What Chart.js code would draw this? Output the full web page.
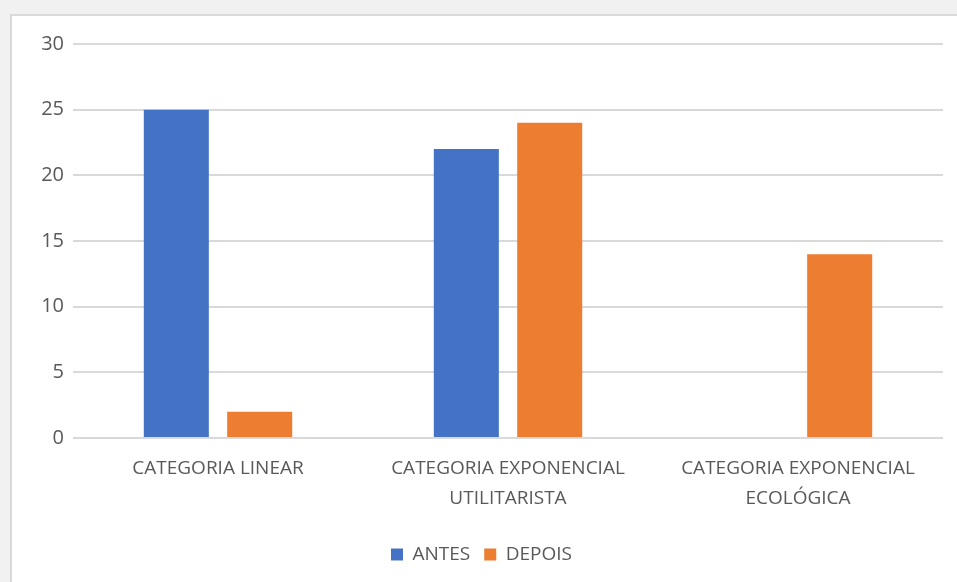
<!DOCTYPE html>
<html>
<head>
<meta charset="utf-8">
<script src="https://cdn.jsdelivr.net/npm/chart.js@4"></script>
<style>
  html, body { margin: 0; padding: 0; background: #f1f1f1; }
  #wrap { position: relative; width: 957px; height: 582px; overflow: hidden; }
  #frame { position: absolute; left: 10px; top: 14px; width: 960px; height: 580px;
           background: #fff; border: 2px solid #d9d9d9; }
  #myChart { position: absolute; left: 0; top: 0; }
</style>
</head>
<body>
<div id="wrap">
  <div id="frame"></div>
  <canvas id="myChart" width="957" height="582"></canvas>
</div>
<script>
let categorias = [
    'CATEGORIA LINEAR',
    ['CATEGORIA EXPONENCIAL', 'UTILITARISTA'],
    ['CATEGORIA EXPONENCIAL', 'ECOLÓGICA']
];
let antes = [25, 22, 0];
let depois = [2, 24, 14];
let ticksY = [0, 5, 10, 15, 20, 25, 30];

let cinza = '#595959';
let fonte = "'Open Sans', 'Liberation Sans', sans-serif";

let myChart = document.getElementById('myChart').getContext('2d');
let chart = new Chart(myChart, {
    type: 'bar',
    data: {
        labels: categorias,
        datasets: [
            {
                label: 'ANTES',
                data: antes,
                backgroundColor: '#4472C4',
                categoryPercentage: 0.575,
                barPercentage: 0.78
            },
            {
                label: 'DEPOIS',
                data: depois,
                backgroundColor: '#ED7D31',
                categoryPercentage: 0.575,
                barPercentage: 0.78
            }
        ]
    },
    options: {
        responsive: false,
        animation: false,
        layout: {
            padding: { top: 44, right: 14, left: 20, bottom: 8 }
        },
        scales: {
            x: {
                grid: { display: false },
                border: { display: false },
                ticks: {
                    color: cinza,
                    font: { family: fonte, size: 19, lineHeight: 1.55 },
                    maxRotation: 0,
                    autoSkip: false,
                    padding: 8
                },
                afterFit: function (scale) { scale.height = 93; }
            },
            y: {
                min: 0,
                max: 30,
                afterBuildTicks: function (scale) {
                    scale.ticks = ticksY.map(v => ({ value: v }));
                },
                grid: { color: '#d9d9d9', lineWidth: 2, drawTicks: false },
                border: { display: false },
                ticks: {
                    color: cinza,
                    font: { family: fonte, size: 20 },
                    padding: 9
                },
                afterFit: function (scale) { scale.width = 53; }
            }
        },
        plugins: {
            legend: {
                position: 'bottom',
                labels: {
                    color: cinza,
                    font: { family: fonte, size: 19 },
                    boxWidth: 12,
                    boxHeight: 12,
                    padding: 14
                }
            },
            tooltip: { enabled: false }
        }
    }
});
</script>
</body>
</html>
